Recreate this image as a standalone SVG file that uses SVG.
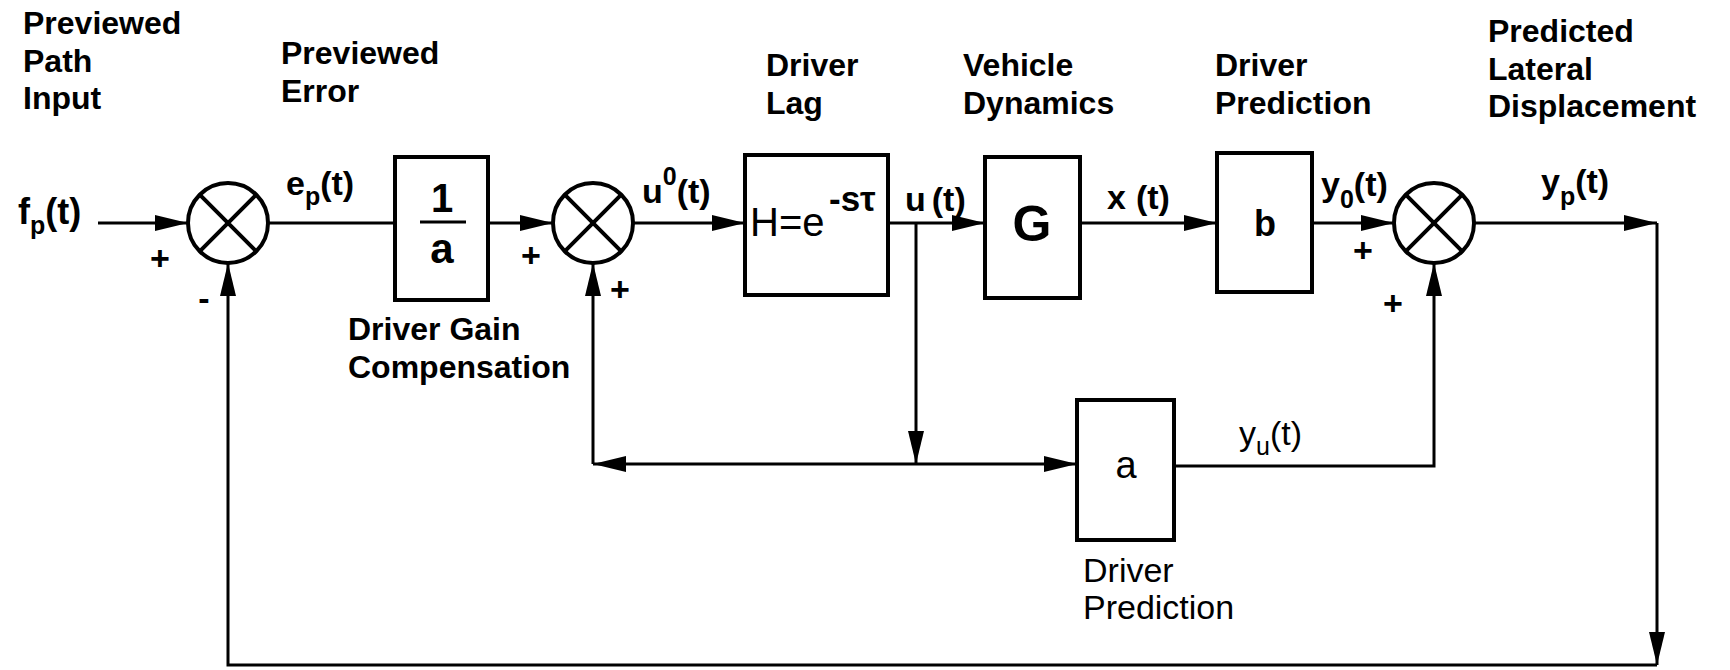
<svg xmlns="http://www.w3.org/2000/svg" width="1730" height="670" viewBox="0 0 1730 670">
<style>
.lbl{font-family:"Liberation Sans",Arial,sans-serif;font-size:32px;font-weight:bold;fill:#000}
.lo{font-family:"Liberation Sans",Arial,sans-serif;font-size:34px;font-weight:normal;fill:#000}
.sig{font-family:"Liberation Sans",Arial,sans-serif;font-size:34px;font-weight:bold;fill:#000}
.sub{font-size:25px}
.sgn{font-family:"Liberation Sans",Arial,sans-serif;font-size:34px;font-weight:bold;fill:#000;text-anchor:middle}
.box{fill:#fff;stroke:#000;stroke-width:4}
.sum{fill:#fff;stroke:#000;stroke-width:4}
.x{stroke:#000;stroke-width:4}
.ln{fill:none;stroke:#000;stroke-width:3}
.arr{fill:none;stroke:#000;stroke-width:3;marker-end:url(#ah)}
</style>
<defs>
<marker id="ah" markerUnits="userSpaceOnUse" markerWidth="36" markerHeight="18" refX="33" refY="8" orient="auto">
<path d="M0,0 L33,8 L0,16 Z" fill="#000"/>
</marker>
</defs>
<rect width="1730" height="670" fill="#fff"/>

<g id="connectors">
<path class="arr" d="M98,223 H188"/>
<path class="ln" d="M268,223 H395"/>
<path class="arr" d="M487,223 H553"/>
<path class="arr" d="M633,223 H745"/>
<path class="arr" d="M888,223 H985"/>
<path class="arr" d="M1080,223 H1217"/>
<path class="arr" d="M1312,223 H1394"/>
<path class="arr" d="M1474,223 H1657"/>
<path class="arr" d="M1657,223 V665"/>
<path class="arr" d="M1657,665 H228 V263"/>
<path class="arr" d="M916,223 V464"/>
<path class="arr" d="M916,464 H1077"/>
<path class="arr" d="M916,464 H593"/>
<path class="arr" d="M593,464 V263"/>
<path class="arr" d="M1174,466 H1434 V263"/>
</g>

<g id="sum1">
<circle class="sum" cx="228" cy="223" r="40"/>
<path class="x" d="M199.7,194.7 L256.3,251.3 M256.3,194.7 L199.7,251.3"/>
<text class="sgn" x="160" y="270">+</text>
<text class="sgn" x="204" y="310">-</text>
</g>

<g id="sum2">
<circle class="sum" cx="593" cy="223" r="40"/>
<path class="x" d="M564.7,194.7 L621.3,251.3 M621.3,194.7 L564.7,251.3"/>
<text class="sgn" x="531" y="267">+</text>
<text class="sgn" x="620" y="301">+</text>
</g>

<g id="sum3">
<circle class="sum" cx="1434" cy="223" r="40"/>
<path class="x" d="M1405.7,194.7 L1462.3,251.3 M1462.3,194.7 L1405.7,251.3"/>
<text class="sgn" x="1363" y="262">+</text>
<text class="sgn" x="1393" y="315">+</text>
</g>

<g id="gain">
<rect class="box" x="395" y="157" width="93" height="143"/>
<text class="sig" x="442" y="212" text-anchor="middle" style="font-size:40px">1</text>
<path class="ln" d="M420,222 H466"/>
<text class="sig" x="442" y="263" text-anchor="middle" style="font-size:42px">a</text>
</g>

<g id="lag">
<rect class="box" x="745" y="155" width="143" height="140"/>
<text x="750" y="236" style="font-family:'Liberation Sans',Arial,sans-serif;font-size:40px">H=e</text>
<text class="sig" x="829" y="211" style="font-size:35px">-sτ</text>
</g>

<g id="vehicle">
<rect class="box" x="985" y="157" width="95" height="141"/>
<text class="sig" x="1032" y="241" text-anchor="middle" style="font-size:50px">G</text>
</g>

<g id="predb">
<rect class="box" x="1217" y="153" width="95" height="139"/>
<text class="sig" x="1265" y="236" text-anchor="middle" style="font-size:36px">b</text>
</g>

<g id="preda">
<rect class="box" x="1077" y="400" width="97" height="140"/>
<text class="lo" x="1126" y="478" text-anchor="middle" style="font-size:38px">a</text>
</g>

<g id="labels">
<text class="lbl" x="23" y="34">Previewed</text>
<text class="lbl" x="23" y="72">Path</text>
<text class="lbl" x="23" y="109">Input</text>
<text class="lbl" x="281" y="64">Previewed</text>
<text class="lbl" x="281" y="102">Error</text>
<text class="lbl" x="766" y="76">Driver</text>
<text class="lbl" x="766" y="114">Lag</text>
<text class="lbl" x="963" y="76">Vehicle</text>
<text class="lbl" x="963" y="114">Dynamics</text>
<text class="lbl" x="1215" y="76">Driver</text>
<text class="lbl" x="1215" y="114">Prediction</text>
<text class="lbl" x="1488" y="42">Predicted</text>
<text class="lbl" x="1488" y="80">Lateral</text>
<text class="lbl" x="1488" y="117">Displacement</text>
<text class="lbl" x="348" y="340">Driver Gain</text>
<text class="lbl" x="348" y="378">Compensation</text>
<text class="lo" x="1083" y="582">Driver</text>
<text class="lo" x="1083" y="619">Prediction</text>
</g>

<g id="signals">
<text class="sig" x="18" y="224" style="font-size:36px">f<tspan class="sub" dy="10">p</tspan><tspan dy="-10">(t)</tspan></text>
<text class="sig" x="286" y="195">e<tspan class="sub" dy="10">p</tspan><tspan dy="-10">(t)</tspan></text>
<text class="sig" x="642" y="203">u<tspan class="sub" dy="-18">0</tspan><tspan dy="18">(t)</tspan></text>
<text class="sig" x="905" y="211">u<tspan dx="6">(t)</tspan></text>
<text class="sig" x="1107" y="209">x<tspan dx="10">(t)</tspan></text>
<text class="sig" x="1321" y="196">y<tspan class="sub" dy="12">0</tspan><tspan dy="-12">(t)</tspan></text>
<text class="sig" x="1541" y="193">y<tspan class="sub" dy="12">p</tspan><tspan dy="-12">(t)</tspan></text>
<text class="lo" x="1239" y="445">y<tspan class="sub" dy="10">u</tspan><tspan dy="-10">(t)</tspan></text>
</g>
</svg>
